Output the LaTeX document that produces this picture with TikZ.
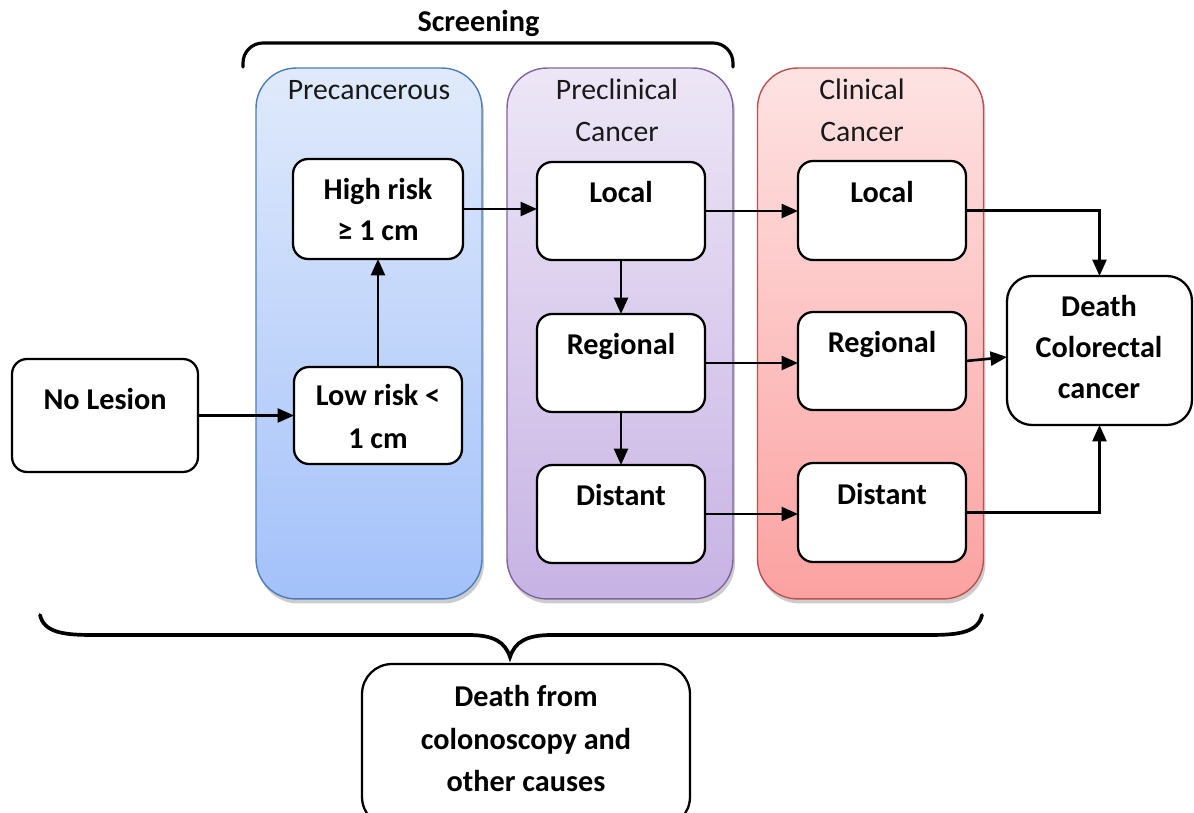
\documentclass[tikz,border=0pt]{standalone}
\usepackage{fontspec}
\setmainfont{Carlito}
\usetikzlibrary{arrows.meta}
\definecolor{bluedraw}{HTML}{4A7EBB}
\definecolor{bluetop}{HTML}{E0EAFB}
\definecolor{bluebot}{HTML}{A3C1FA}
\definecolor{purpdraw}{HTML}{8064A2}
\definecolor{purptop}{HTML}{EDE6F6}
\definecolor{purpbot}{HTML}{C7B3E4}
\definecolor{reddraw}{HTML}{C0504D}
\definecolor{redtop}{HTML}{FEE3E3}
\definecolor{redbot}{HTML}{FBA2A1}
\begin{document}
\begin{tikzpicture}[x=0.02cm,y=-0.02cm,
  box/.style={draw=black, fill=white, line width=1.3pt, rounded corners=0.3cm, inner sep=0pt, outer sep=0pt, minimum width=3.36cm, minimum height=1.96cm},
  cont/.style={line width=0.8pt, rounded corners=0.8cm, inner sep=0pt, outer sep=0pt, minimum width=4.52cm, minimum height=10.62cm},
  shad/.style={fill=black!20, rounded corners=0.8cm, inner sep=0pt, minimum width=4.52cm, minimum height=10.62cm},
  lbl/.style={anchor=base, inner sep=0pt, font=\bfseries\fontsize{17.2}{20}\selectfont},
  ttl/.style={anchor=base, inner sep=0pt, font=\fontsize{16.9}{20}\selectfont, text=black!90},
  arr/.style={line width=1.5pt, -{Triangle[length=0.33cm,width=0.28cm]}},
  brace/.style={line width=1.8pt, line cap=round}
]
\useasboundingbox (0,0) rectangle (1194,813);

% containers with shadows
\node[shad] (spre) at (371,338) {};
\node[shad] (sprecl) at (622,338) {};
\node[shad] (sclin) at (872.5,338) {};
\node[cont, draw=bluedraw, top color=bluetop, bottom color=bluebot] (cpre) at (369,333.5) {};
\node[cont, draw=purpdraw, top color=purptop, bottom color=purpbot] (cprecl) at (620,333.5) {};
\node[cont, draw=reddraw, top color=redtop, bottom color=redbot] (cclin) at (870.5,333.5) {};

% container titles
\node[ttl] (tpre) at (369,100) {Precancerous};
\node[ttl] (tprecl1) at (617,100) {Preclinical};
\node[ttl] (tprecl2) at (617,142) {Cancer};
\node[ttl] (tclin1) at (862,100) {Clinical};
\node[ttl] (tclin2) at (862,142) {Cancer};

% screening brace
\node[lbl] (scr) at (478.5,32) {Screening};
\draw[brace, rounded corners=0.4cm] (243,67) -- (243,43) -- (733,43) -- (733,67);

% boxes
\node[box, minimum width=3.72cm, minimum height=2.26cm] (nolesion) at (105,415.5) {};
\node[box, minimum height=1.94cm] (lowrisk) at (378,415.5) {};
\node[box, minimum width=3.4cm, minimum height=2.0cm] (highrisk) at (378,209) {};
\node[box] (plocal) at (621,211) {};
\node[box] (pregional) at (621,363) {};
\node[box] (pdistant) at (621,514) {};
\node[box, minimum height=1.98cm] (clocal) at (882,210.5) {};
\node[box] (cregional) at (882,361) {};
\node[box, minimum height=1.98cm] (cdistant) at (882,512.5) {};
\node[box, rounded corners=0.5cm, minimum width=3.7cm, minimum height=2.98cm] (death) at (1099.5,350.5) {};
\node[box, rounded corners=0.6cm, minimum width=6.56cm, minimum height=3.26cm] (other) at (526,745.5) {};

% box texts
\node[lbl] (tnl) at (105,410) {No Lesion};
\node[lbl] (tlr1) at (378,406) {Low risk <};
\node[lbl] (tlr2) at (378,449) {1 cm};
\node[lbl] (thr1) at (378,200) {High risk};
\node[lbl] (thr2) at (378,241) {≥ 1 cm};
\node[lbl] (tpl) at (621,203) {Local};
\node[lbl] (tpr) at (621,355) {Regional};
\node[lbl] (tpd) at (621,506) {Distant};
\node[lbl] (tcl) at (882,203) {Local};
\node[lbl] (tcr) at (882,353) {Regional};
\node[lbl] (tcd) at (882,505) {Distant};
\node[lbl] (td1) at (1099,317) {Death};
\node[lbl] (td2) at (1099,358) {Colorectal};
\node[lbl] (td3) at (1099,399) {cancer};
\node[lbl] (to1) at (526,707) {Death from};
\node[lbl] (to2) at (526,750) {colonoscopy and};
\node[lbl] (to3) at (526,792) {other causes};

% arrows
\draw[arr] (nolesion.east) -- (lowrisk.west);
\draw[arr] (lowrisk.north) -- (highrisk.south);
\draw[arr] (highrisk.east) -- (highrisk.east -| plocal.west);
\draw[arr] (plocal.south) -- (pregional.north);
\draw[arr] (pregional.south) -- (pdistant.north);
\draw[arr] (plocal.east) -- (plocal.east -| clocal.west);
\draw[arr] (pregional.east) -- (pregional.east -| cregional.west);
\draw[arr] (pdistant.east) -- (pdistant.east -| cdistant.west);
\draw[arr] (clocal.east) -| (death.north);
\draw[arr] (cregional.east) -- ([yshift=-0.13cm]death.west);
\draw[arr] (cdistant.east) -| (death.south);

% bottom brace
\coordinate (bl) at (40,615);
\coordinate (br) at (982,615);
\coordinate (btip) at (510,657);
\draw[brace, line width=2.1pt] (bl) .. controls (44,632) and (62,635) .. (92,635) -- (468,635)
  .. controls (494,635) and (505,642) .. (btip)
  .. controls (515,642) and (526,635) .. (552,635) -- (930,635)
  .. controls (960,635) and (978,632) .. (br);
\end{tikzpicture}
\end{document}
